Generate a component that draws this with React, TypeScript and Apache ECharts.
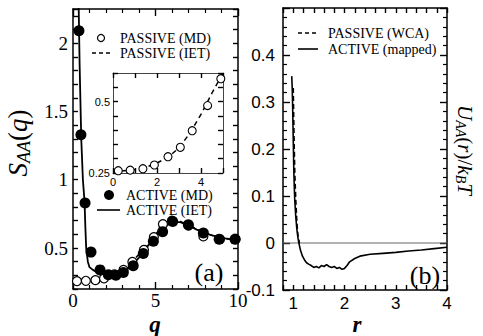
import React, { useEffect, useRef } from "react";
import * as echarts from "echarts";

// ---------- Data ----------
// Panel (a): structure factor S_AA(q)
const passiveMdQ = [0.24, 0.78, 1.36, 1.88, 2.5, 3.06, 3.6, 4.3, 4.9, 5.45, 6.0, 7.0, 7.9, 8.9, 9.85];
const passiveMdS = [0.258, 0.26, 0.265, 0.278, 0.307, 0.34, 0.398, 0.486, 0.58, 0.675, 0.70, 0.665, 0.585, 0.565, 0.565];

const passiveIetQ = [0, 0.5, 1, 1.5, 2, 2.5, 3, 3.5, 4, 4.5, 5, 5.5, 6, 6.5, 7, 7.5, 8, 8.5, 9, 9.5, 10];
const passiveIetS = [0.255, 0.258, 0.262, 0.27, 0.285, 0.305, 0.338, 0.39, 0.455, 0.53, 0.6, 0.665, 0.7, 0.695, 0.67, 0.64, 0.61, 0.59, 0.575, 0.565, 0.56];

const activeMdQ = [0.36, 0.48, 0.73, 1.09, 1.64, 2.14, 2.6, 3.05, 3.65, 4.26, 4.87, 5.43, 6.04, 6.99, 7.9, 8.86, 9.82];
const activeMdS = [2.09, 1.33, 0.83, 0.47, 0.34, 0.305, 0.3, 0.32, 0.37, 0.46, 0.55, 0.62, 0.695, 0.67, 0.61, 0.565, 0.565];

const activeIetQ = [0.34, 0.4, 0.5, 0.6, 0.7, 0.75, 0.8, 0.9, 1.0, 1.2, 1.5, 2, 2.5, 3, 3.5, 4, 4.5, 5, 5.5, 6, 6.5, 7, 7.5, 8, 8.5, 9, 9.5, 10];
const activeIetS = [2.3, 1.85, 1.3, 1.0, 0.84, 0.65, 0.5, 0.4, 0.36, 0.34, 0.32, 0.305, 0.305, 0.325, 0.365, 0.43, 0.51, 0.585, 0.65, 0.69, 0.69, 0.665, 0.635, 0.61, 0.59, 0.575, 0.565, 0.56];

// Panel (b): effective potential U_AA(r)/kBT
const activeR = [0.97, 0.98, 0.99, 1.0, 1.01, 1.02, 1.03, 1.05, 1.07, 1.09, 1.11, 1.14, 1.18, 1.22, 1.26, 1.3, 1.35, 1.4, 1.45, 1.5, 1.55, 1.6, 1.65, 1.7, 1.75, 1.8, 1.85, 1.9, 1.95, 2.0, 2.05, 2.1, 2.2, 2.3, 2.5, 2.75, 3.0, 3.25, 3.5, 3.75, 4.0];
const activeU = [0.355, 0.33, 0.28, 0.22, 0.16, 0.12, 0.09, 0.055, 0.03, 0.012, 0.0, -0.015, -0.028, -0.036, -0.042, -0.045, -0.048, -0.052, -0.05, -0.053, -0.048, -0.05, -0.046, -0.05, -0.052, -0.05, -0.054, -0.052, -0.056, -0.054, -0.048, -0.04, -0.033, -0.028, -0.024, -0.022, -0.02, -0.017, -0.015, -0.012, -0.009];

const passiveR = [1.0, 1.01, 1.02, 1.03, 1.05, 1.07, 1.09, 1.12];
const passiveU = [0.33, 0.26, 0.2, 0.15, 0.09, 0.045, 0.018, 0.0];

const zeroR = [0.8, 4];
const zeroU = [0, 0];

// Tick labels
const aYLabels = [0.5, 1, 1.5, 2];
const bXLabels = [1, 2, 3, 4];
const insetXLabels = [0, 2, 4];
const insetYLabels = [0.25, 0.5];

const SERIF = "Liberation Serif, Times New Roman, serif";
const SANS = "Liberation Sans, Arial, sans-serif";

const pairs = (xs: number[], ys: number[]) => xs.map((x, i) => [x, ys[i]]);
const onlyLabels = (list: number[]) => (v: number) =>
  list.some((l) => Math.abs(l - v) < 1e-6) ? String(+v.toFixed(2)) : "";

const measureCtx = typeof document !== "undefined" ? document.createElement("canvas").getContext("2d") : null;
const measure = (font: string, t: string) => {
  if (!measureCtx) return t.length * 10;
  measureCtx.font = font;
  return measureCtx.measureText(t).width;
};

type Part = { t: string; size: number; italic?: boolean; bold?: boolean; dy?: number };
const label = (parts: Part[], cx: number, cy: number, rotation: number) => {
  const widths = parts.map((p) =>
    measure(`${p.italic ? "italic " : ""}${p.bold ? "bold " : ""}${p.size}px ${SERIF}`, p.t)
  );
  const total = widths.reduce((a, b) => a + b, 0);
  let x = -total / 2;
  const children = parts.map((p, i) => {
    const el = {
      type: "text",
      x,
      y: p.dy || 0,
      style: {
        text: p.t,
        fontFamily: SERIF,
        fontSize: p.size,
        fontStyle: p.italic ? "italic" : "normal",
        fontWeight: p.bold ? "bold" : "normal",
        fill: "#000",
        align: "left",
        verticalAlign: "middle",
      },
    };
    x += widths[i];
    return el;
  });
  return { type: "group", x: cx, y: cy, rotation, children };
};

const line = (x1: number, y1: number, x2: number, y2: number, dash?: number[]) => ({
  type: "line",
  shape: { x1, y1, x2, y2 },
  style: { stroke: "#000", lineWidth: 1.6, lineDash: dash || null },
});
const txt = (t: string, x: number, y: number, size: number, align = "left") => ({
  type: "text",
  x,
  y,
  style: { text: t, fontFamily: SERIF, fontSize: size, fill: "#000", align, verticalAlign: "middle" },
});

function App() {
  const ref = useRef<HTMLDivElement>(null);
  useEffect(() => {
    if (!ref.current) return;
    const chart = echarts.init(ref.current, null, { renderer: "svg" });

    const axLine = (w = 1.5, color = "#000") => ({ show: true, onZero: false, lineStyle: { color, width: w } });
    const noSplit = { show: false };
    const tick = (length: number, color = "#000") => ({
      show: true, inside: true, length, lineStyle: { color, width: 1.4 },
    });
    const minor = () => ({ show: true, splitNumber: 5, length: 4, lineStyle: { color: "#000", width: 1.2 } });

    const ax = (grid: number, position: string, min: number, max: number, interval: number, extra: any = {}) => ({
      type: "value", gridIndex: grid, position, min, max, interval,
      axisLine: axLine(grid === 2 ? 1 : 1.5, grid === 2 ? "#444" : "#000"),
      splitLine: noSplit,
      axisTick: tick(5),
      axisLabel: { show: false },
      ...extra,
    });

    const xAxis: any[] = [
      // 0: panel a bottom
      ax(0, "bottom", 0, 10, 5, {
        axisTick: tick(7), minorTick: minor(),
        axisLabel: { fontFamily: SERIF, fontSize: 19, color: "#000", margin: 2 },
      }),
      // 1: panel a top
      ax(0, "top", 0, 10, 5, { axisTick: tick(7), minorTick: minor() }),
      // 2: panel b bottom
      ax(1, "bottom", 0.8, 4, 0.2, {
        axisLabel: { fontFamily: SANS, fontSize: 17, color: "#000", margin: 5, formatter: onlyLabels(bXLabels) },
      }),
      // 3: panel b top
      ax(1, "top", 0.8, 4, 0.2),
      // 4: inset bottom
      ax(2, "bottom", 0, 5, 1, {
        axisLabel: { fontFamily: SANS, fontSize: 11, color: "#000", margin: 3, formatter: onlyLabels(insetXLabels) },
      }),
      // 5: inset top
      ax(2, "top", 0, 5, 1),
    ];

    const yAxis: any[] = [
      // 0: panel a left
      ax(0, "left", 0.2, 2.25, 0.1, {
        axisLabel: { fontFamily: SERIF, fontSize: 19, color: "#000", margin: 5, formatter: onlyLabels(aYLabels) },
      }),
      // 1: panel a right
      ax(0, "right", 0.2, 2.25, 0.1),
      // 2: panel b left
      ax(1, "left", -0.1, 0.5, 0.1, {
        axisTick: tick(7), minorTick: minor(),
        axisLabel: { fontFamily: SANS, fontSize: 17, color: "#000", margin: 8, showMaxLabel: false },
      }),
      // 3: panel b right
      ax(1, "right", -0.1, 0.5, 0.1, { axisTick: tick(7), minorTick: minor() }),
      // 4: inset left
      ax(2, "left", 0.25, 0.6, 0.05, {
        axisLabel: { fontFamily: SANS, fontSize: 11, color: "#000", margin: 3, formatter: onlyLabels(insetYLabels) },
      }),
      // 5: inset right
      ax(2, "right", 0.25, 0.6, 0.05),
    ];

    const series: any[] = [
      {
        name: "PASSIVE (IET)", type: "line", xAxisIndex: 0, yAxisIndex: 0, showSymbol: false, symbol: "none",
        data: pairs(passiveIetQ, passiveIetS), lineStyle: { color: "#000", width: 1.6, type: [6, 4] }, z: 3,
      },
      {
        name: "ACTIVE (IET)", type: "line", xAxisIndex: 0, yAxisIndex: 0, showSymbol: false, symbol: "none",
        data: pairs(activeIetQ, activeIetS), lineStyle: { color: "#000", width: 1.8 }, z: 3,
      },
      {
        name: "PASSIVE (MD)", type: "scatter", xAxisIndex: 0, yAxisIndex: 0, symbol: "circle", symbolSize: 9,
        data: pairs(passiveMdQ, passiveMdS),
        itemStyle: { color: "#fff", borderColor: "#000", borderWidth: 1.2, opacity: 1 }, z: 4,
      },
      {
        name: "ACTIVE (MD)", type: "scatter", xAxisIndex: 0, yAxisIndex: 0, symbol: "circle", symbolSize: 11,
        data: pairs(activeMdQ, activeMdS), itemStyle: { color: "#000", opacity: 1 }, z: 5,
      },
      {
        name: "PASSIVE (IET) inset", type: "line", xAxisIndex: 4, yAxisIndex: 4, showSymbol: false, symbol: "none",
        data: pairs(passiveIetQ, passiveIetS), lineStyle: { color: "#000", width: 1.5, type: [5, 4] }, z: 6,
      },
      {
        name: "PASSIVE (MD) inset", type: "scatter", xAxisIndex: 4, yAxisIndex: 4, symbol: "circle", symbolSize: 8,
        data: pairs(passiveMdQ, passiveMdS),
        itemStyle: { color: "#fff", borderColor: "#000", borderWidth: 1.1, opacity: 1 }, z: 7,
      },
      {
        name: "zero", type: "line", xAxisIndex: 2, yAxisIndex: 2, showSymbol: false, symbol: "none",
        data: pairs(zeroR, zeroU), lineStyle: { color: "#666", width: 1 }, z: 2,
      },
      {
        name: "PASSIVE (WCA)", type: "line", xAxisIndex: 2, yAxisIndex: 2, showSymbol: false, symbol: "none",
        data: pairs(passiveR, passiveU), lineStyle: { color: "#000", width: 1.6, type: [5, 3] }, z: 3,
      },
      {
        name: "ACTIVE (mapped)", type: "line", xAxisIndex: 2, yAxisIndex: 2, showSymbol: false, symbol: "none",
        data: pairs(activeR, activeU), lineStyle: { color: "#000", width: 1.6 }, z: 4,
      },
    ];

    const graphic: any[] = [
      // legend (a) top
      { type: "circle", shape: { cx: 101, cy: 38, r: 3.5 }, style: { fill: "#fff", stroke: "#000", lineWidth: 1.2 }, z: 10 },
      txt("PASSIVE (MD)", 120, 38, 14),
      line(92, 53, 111, 53, [4, 3]),
      txt("PASSIVE (IET)", 120, 53, 14),
      // legend (a) middle
      { type: "circle", shape: { cx: 109, cy: 195, r: 5 }, style: { fill: "#000" }, z: 10 },
      txt("ACTIVE (MD)", 126, 195, 14),
      line(97, 210, 120, 210),
      txt("ACTIVE (IET)", 126, 210, 14),
      // legend (b)
      line(298, 33, 318, 33, [4, 3]),
      txt("PASSIVE (WCA)", 328, 33, 14),
      line(298, 49, 318, 49),
      txt("ACTIVE (mapped)", 328, 49, 14),
      // panel tags
      txt("(a)", 209, 272, 26, "center"),
      txt("(b)", 425, 275, 26, "center"),
      // axis titles
      label([{ t: "q", size: 23, italic: true, bold: true }], 155, 324, 0),
      label([{ t: "r", size: 23, italic: true, bold: true }], 357, 324, 0),
      label(
        [
          { t: "S", size: 27, italic: true },
          { t: "AA", size: 18, italic: true, dy: 6 },
          { t: "(", size: 27 },
          { t: "q", size: 27, italic: true },
          { t: ")", size: 27 },
        ],
        18, 143, Math.PI / 2
      ),
      label(
        [
          { t: "U", size: 21, italic: true },
          { t: "AA", size: 14, italic: true, dy: 5 },
          { t: "(", size: 21 },
          { t: "r", size: 21, italic: true },
          { t: ")", size: 21 },
          { t: "/", size: 21 },
          { t: "k", size: 21, italic: true },
          { t: "B", size: 14, italic: true, dy: 5 },
          { t: "T", size: 21, italic: true },
        ],
        465, 150, -Math.PI / 2
      ),
    ];

    chart.setOption({
      animation: false,
      backgroundColor: "#fff",
      grid: [
        { left: 73, top: 9, width: 165, height: 280 },
        { left: 283, top: 8, width: 164, height: 282 },
        { left: 113, top: 73, width: 110, height: 100 },
      ],
      xAxis,
      yAxis,
      series,
      graphic,
    });
    return () => chart.dispose();
  }, []);
  return <div ref={ref} style={{ position: "absolute", left: 0, top: 0, width: 483, height: 336 }} />;
}

export default App;
